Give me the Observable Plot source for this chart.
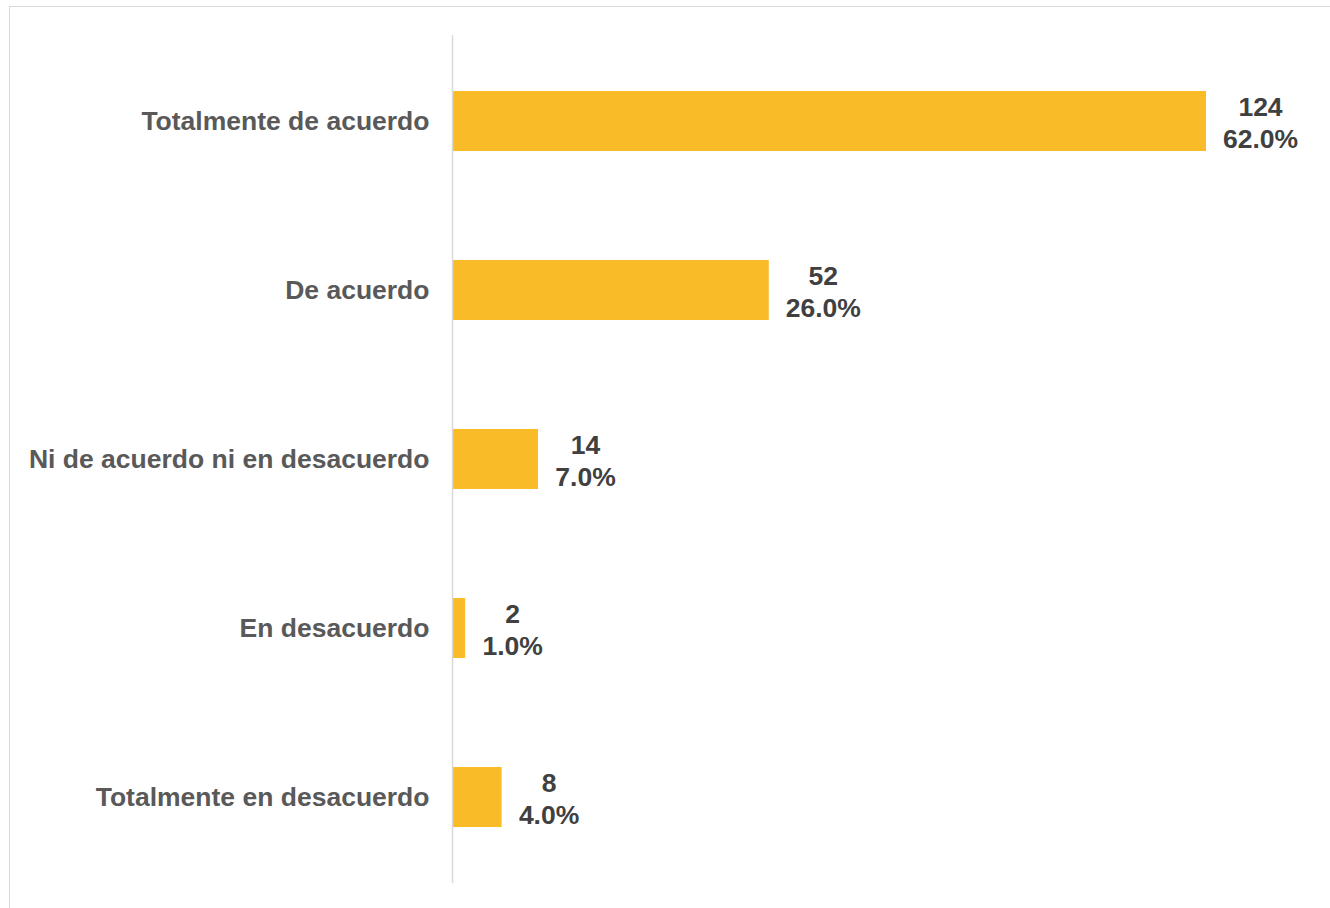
<!DOCTYPE html>
<html>
<head>
<meta charset="utf-8">
<script src="https://cdn.jsdelivr.net/npm/d3@7"></script>
<script src="https://cdn.jsdelivr.net/npm/@observablehq/plot@0.6"></script>
<style>
  html, body { margin: 0; padding: 0; background: #fff; }
  #wrap { position: relative; width: 1330px; height: 908px; overflow: hidden; }
  #frame { position: absolute; left: 9px; top: 6px; width: 1400px; height: 1000px;
           border-left: 1px solid #d9d9d9; border-top: 1px solid #d9d9d9; pointer-events: none; }
  svg { display: block; }
  svg text { font-family: "Liberation Sans", Arial, sans-serif !important; }
</style>
</head>
<body>
<div id="wrap"><div id="frame"></div></div>
<script>
const categories = [
  "Totalmente de acuerdo",
  "De acuerdo",
  "Ni de acuerdo ni en desacuerdo",
  "En desacuerdo",
  "Totalmente en desacuerdo"
];
const counts = [124, 52, 14, 2, 8];
const percents = [62.0, 26.0, 7.0, 1.0, 4.0];

const data = categories.map((c, i) => ({
  category: c,
  count: counts[i],
  pct: percents[i],
  label: `${counts[i]}\n${percents[i].toFixed(1)}%`
}));

const font = "Liberation Sans, Arial, sans-serif";
const textColor = "#404040";
const tickColor = "#595959";
const fs = 26.5;

const chart = Plot.plot({
  width: 1330,
  height: 908,
  marginLeft: 453,
  marginRight: 124,
  marginTop: 35,
  marginBottom: 25,
  style: "font-family: 'Liberation Sans', Arial, sans-serif; background: transparent; overflow: visible;",
  x: { domain: [0, 124], axis: null },
  y: { domain: categories, paddingInner: 0.646, paddingOuter: 0.323, label: null },
  marks: [
    Plot.barX(data, { x: "count", y: "category", fill: "#F9BB28" }),
    Plot.ruleX([0], { stroke: "#d9d9d9", strokeWidth: 1.5, dx: -1 }),
    Plot.axisY({ tickSize: 0, tickPadding: 24, fontSize: fs, fontWeight: "bold", fill: tickColor, fontFamily: font, label: null }),
    Plot.text(data, { filter: d => d.pct >= 10, x: "count", y: "category", text: "label",
      textAnchor: "middle", dx: 54, fontSize: fs, fontWeight: "bold", fill: textColor, fontFamily: font, lineHeight: 1.2 }),
    Plot.text(data, { filter: d => d.pct < 10, x: "count", y: "category", text: "label",
      textAnchor: "middle", dx: 47, fontSize: fs, fontWeight: "bold", fill: textColor, fontFamily: font, lineHeight: 1.2 })
  ]
});
document.getElementById("wrap").prepend(chart);
</script>
</body>
</html>
